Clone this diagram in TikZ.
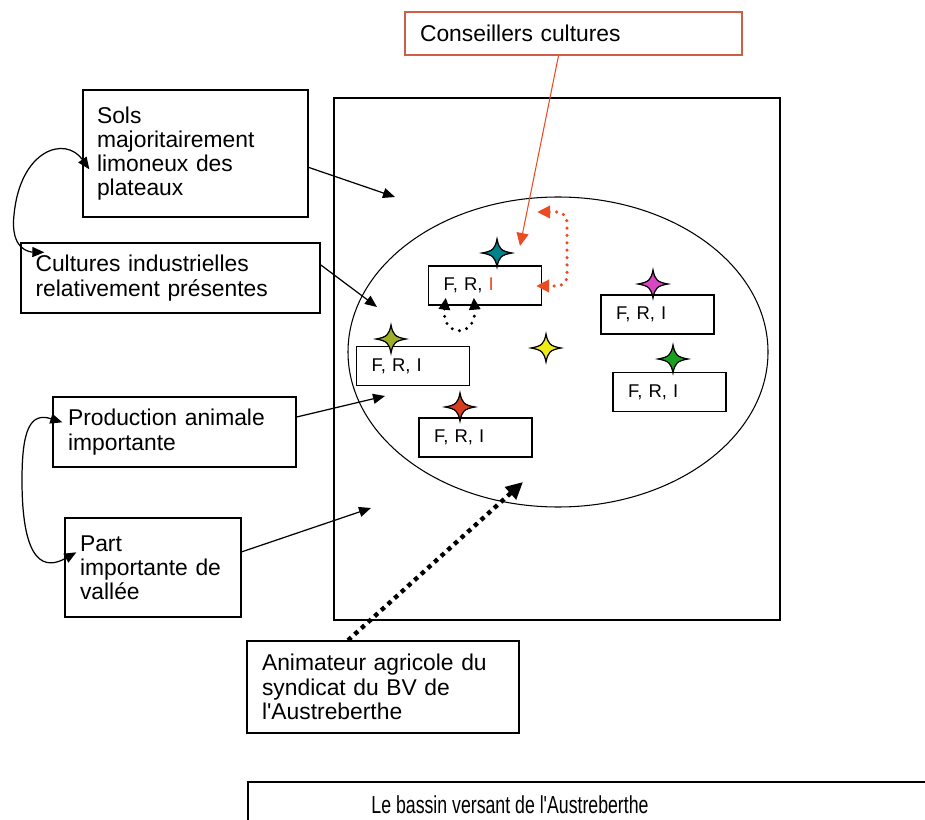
\documentclass[tikz,border=0pt]{standalone}
\usepackage{fontspec}
\setmainfont{Liberation Sans}
\usepackage{graphicx}
\usetikzlibrary{arrows.meta, positioning, calc}
\definecolor{cCons}{RGB}{205,95,70}
\definecolor{cRed}{RGB}{235,75,35}
\definecolor{cTeal}{RGB}{0,130,140}
\definecolor{cOlive}{RGB}{160,175,40}
\definecolor{cBrick}{RGB}{215,60,30}
\definecolor{cYellow}{RGB}{240,235,20}
\definecolor{cMagenta}{RGB}{215,70,195}
\definecolor{cGreen}{RGB}{25,160,30}
\tikzset{
    txtbox/.style={rectangle, draw=black, line width=0.8pt, align=left, inner sep=0pt, font=\fontsize{13}{13.8}\selectfont},
    fribox/.style={rectangle, draw=black, line width=0.8pt, minimum width=2.26cm, minimum height=0.78cm, text width=1.66cm, align=left, inner sep=0pt, font=\fontsize{10.5}{12}\selectfont},
    flowarrow/.style={-{Triangle[length=2.4mm, width=2mm]}, line width=0.7pt},
    twinarrow/.style={{Triangle[length=2.4mm, width=2mm]}-{Triangle[length=2.4mm, width=2mm]}, line width=0.7pt},
    redline/.style={-{Triangle[length=2.6mm, width=2.4mm]}, draw=cRed, line width=0.6pt},
    reddots/.style={{Triangle[length=2.6mm, width=2.4mm]}-{Triangle[length=2.6mm, width=2.4mm]}, draw=cRed, line width=2pt, dash pattern=on 0pt off 4.2pt, line cap=round},
    fridots/.style={{Triangle[length=2.4mm, width=2.2mm]}-{Triangle[length=2.4mm, width=2.2mm]}, draw=black, line width=1.9pt, dash pattern=on 0pt off 4.3pt, line cap=round},
    animdots/.style={-{Triangle[length=3.4mm, width=3.2mm]}, draw=black, line width=2.5pt, dash pattern=on 2.5pt off 2.6pt},
    pics/etoile/.style={code={
        \filldraw[fill=#1, draw=black, line width=0.7pt] (0,-14) .. controls (2,-4) and (4,-2) .. (15,0)
            .. controls (4,2) and (2,4) .. (0,14) .. controls (-2,4) and (-4,2) .. (-15,0)
            .. controls (-4,-2) and (-2,-4) .. cycle;
    }},
}
\begin{document}
\begin{tikzpicture}[x=0.02cm, y=-0.02cm]
    \useasboundingbox (0,0) rectangle (925,820);
    \clip (0,0) rectangle (925,820);
    \draw[line width=0.8pt] (334,98) rectangle (780,620);
    \draw[line width=0.6pt] (558,352) ellipse [x radius=210, y radius=155];

    \node[txtbox, draw=cCons, minimum width=6.74cm, minimum height=0.86cm, text width=6.14cm] (cons) at (573.5,33.5) {Conseillers cultures};
    \node[txtbox, minimum width=4.5cm, minimum height=2.54cm, text width=3.94cm] (sols) at (195.5,153.5) {Sols\\majoritairement\\limoneux des\\plateaux};
    \node[txtbox, minimum width=5.98cm, minimum height=1.4cm, text width=5.4cm] (cult) at (170.5,278) {Cultures industrielles\\relativement présentes};
    \node[txtbox, minimum width=4.86cm, minimum height=1.4cm, text width=4.26cm] (prod) at (174.5,432) {Production animale\\importante};
    \node[txtbox, minimum width=3.52cm, minimum height=1.98cm, text width=2.92cm] (part) at (153,567.5) {Part\\importante de\\vallée};
    \node[txtbox, minimum width=5.44cm, minimum height=1.84cm, text width=4.84cm] (anim) at (383,687) {Animateur agricole du\\syndicat du BV de\\l\textquotesingle Austreberthe};

    \node[fribox] (fri1) at (485,285.5) {F, R, \textcolor{cRed}{I}};
    \node[fribox] (fri2) at (413,366) {F, R, I};
    \node[fribox] (fri3) at (475.5,437.5) {F, R, I};
    \node[fribox] (fri4) at (657.5,314.5) {F, R, I};
    \node[fribox] (fri5) at (669.5,392) {F, R, I};

    \pic at (497,253) {etoile=cTeal};
    \pic at (391,339) {etoile=cOlive};
    \pic at (460,407) {etoile=cBrick};
    \pic at (546,348) {etoile=cYellow};
    \pic at (653,284) {etoile=cMagenta};
    \pic at (673,359) {etoile=cGreen};

    \draw[line width=0.8pt] (248,782) rectangle (960,860);
    \node[font=\fontsize{14}{16}\selectfont] (bassin) at (510,805) {\scalebox{0.72}[1]{Le bassin versant de l\textquotesingle Austreberthe}};

    \coordinate (tSols) at (395,197);
    \coordinate (tCult) at (377,307);
    \coordinate (tProd) at (385,396);
    \coordinate (tPart) at (371,508);
    \coordinate (tCons) at (520,246);
    \coordinate (tAnim) at (523,482);
    \coordinate (rdA) at (537,212);
    \coordinate (rdB) at (536,286);

    \draw[flowarrow] (sols.-7) -- (tSols);
    \draw[flowarrow] (cult.5) -- (tCult);
    \draw[flowarrow] (prod.7) -- (tProd);
    \draw[flowarrow] (part.10) -- (tPart);
    \draw[twinarrow] ([shift={(7,80)}]sols.north west) .. controls (65,135) and (20,150) .. (14,215)
        .. controls (10,250) and (30,252) .. ([shift={(24,10)}]cult.north west);
    \draw[twinarrow] ([shift={(10,26)}]prod.north west) .. controls (30,412) and (22,430) .. (22,480)
        .. controls (22,565) and (45,570) .. ([shift={(12,35)}]part.north west);
    \draw[redline] ([xshift=-0.3cm]cons.south) -- (tCons);
    \draw[reddots, rounded corners=0.2cm] (rdA) -- ++(30,0) |- (rdB);
    \draw[fridots] ([shift={(18,-8)}]fri1.south west) .. controls (441,338) and (477,338) .. ([shift={(46,-8)}]fri1.south west);
    \draw[animdots] ([xshift=-0.7cm]anim.north) -- (tAnim);
\end{tikzpicture}
\end{document}
